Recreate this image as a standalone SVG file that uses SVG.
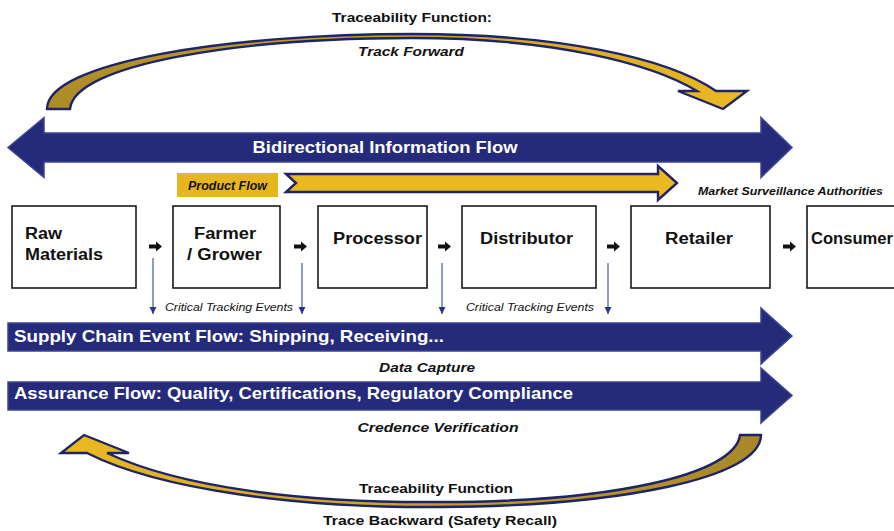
<svg xmlns="http://www.w3.org/2000/svg" width="894" height="531" viewBox="0 0 894 531">
<defs>
<linearGradient id="gTop" gradientUnits="userSpaceOnUse" x1="47" y1="0" x2="747" y2="0">
<stop offset="0" stop-color="#ad8c28"/><stop offset="0.5" stop-color="#c9a226"/><stop offset="1" stop-color="#ebb922"/>
</linearGradient>
<linearGradient id="gBot" gradientUnits="userSpaceOnUse" x1="761" y1="0" x2="61" y2="0">
<stop offset="0" stop-color="#a8872a"/><stop offset="0.5" stop-color="#c9a226"/><stop offset="1" stop-color="#ebb922"/>
</linearGradient>
<marker id="dn" viewBox="0 0 10 10" refX="10" refY="5" markerWidth="7" markerHeight="8" markerUnits="userSpaceOnUse" orient="auto">
<path d="M0,0 L10,5 L0,10 Z" fill="#2a3590"/>
</marker>
</defs>
<style>
text{font-family:"Liberation Sans",Arial,sans-serif;font-weight:bold;}
.it{font-style:italic;}
.reg{font-weight:normal;}
.w{fill:#ffffff;}
.k{fill:#111111;}
.box{fill:#ffffff;stroke:#1a1a1a;stroke-width:1.6;}
.navy{fill:#252a7b;stroke:#3d4392;stroke-width:1.5;}
.arc{stroke:#1e2466;stroke-width:2.4;stroke-linejoin:miter;}
.sa{fill:#111111;}
.dl{stroke:#5563a8;stroke-width:1.3;fill:none;}
</style>
<rect width="894" height="531" fill="#ffffff"/>

<g id="track-forward">
<path class="arc" fill="url(#gTop)" d="M47,109 C47,62 230,34 412,34 C560,34 668,58 716,91 L747,91 L723,109 L678,91 L697,91 C652,64 555,38 412,38 C240,38 74,64 70,109 Z"/>
<text x="412" y="22" font-size="13" text-anchor="middle" textLength="160" lengthAdjust="spacingAndGlyphs" class="k">Traceability Function:</text>
<text x="411" y="56" font-size="13" text-anchor="middle" textLength="106" lengthAdjust="spacingAndGlyphs" class="k it">Track Forward</text>
</g>

<g id="bidirectional-flow">
<path class="navy" d="M8,147.5 L44,117.5 V133 H761 V117.5 L792,147.5 L761,177.5 V162 H44 V177.5 Z"/>
<text x="385" y="153" font-size="16.5" text-anchor="middle" textLength="265" lengthAdjust="spacingAndGlyphs" class="w">Bidirectional Information Flow</text>
</g>

<g id="product-flow">
<rect x="177" y="173" width="101" height="24" fill="#e6b51f"/>
<text x="188" y="190" font-size="12" textLength="79" lengthAdjust="spacingAndGlyphs" class="k it">Product Flow</text>
<path d="M286,174 L658,174 L658,166 L677,183 L658,200 L658,192 L286,192 L296,183 Z" fill="#e9b922" stroke="#1e2466" stroke-width="2.4"/>
</g>

<g id="market-surveillance">
<text x="698" y="195" font-size="11.5" textLength="185" lengthAdjust="spacingAndGlyphs" class="k it">Market Surveillance Authorities</text>
</g>

<g id="raw-materials">
<rect class="box" x="12" y="206" width="124" height="82"/>
<text x="25" y="239" font-size="16" textLength="37" lengthAdjust="spacingAndGlyphs" class="k">Raw</text>
<text x="25" y="260" font-size="16" textLength="78" lengthAdjust="spacingAndGlyphs" class="k">Materials</text>
</g>
<g id="farmer-grower">
<rect class="box" x="173" y="206" width="107" height="82"/>
<text x="194" y="239" font-size="16" textLength="62" lengthAdjust="spacingAndGlyphs" class="k">Farmer</text>
<text x="187" y="260" font-size="16" textLength="75" lengthAdjust="spacingAndGlyphs" class="k">/ Grower</text>
</g>
<g id="processor">
<rect class="box" x="318" y="206" width="109" height="82"/>
<text x="333" y="244" font-size="16" textLength="89" lengthAdjust="spacingAndGlyphs" class="k">Processor</text>
</g>
<g id="distributor">
<rect class="box" x="462" y="206" width="134" height="82"/>
<text x="480" y="244" font-size="16" textLength="93" lengthAdjust="spacingAndGlyphs" class="k">Distributor</text>
</g>
<g id="retailer">
<rect class="box" x="631" y="206" width="139" height="82"/>
<text x="665" y="244" font-size="16" textLength="68" lengthAdjust="spacingAndGlyphs" class="k">Retailer</text>
</g>
<g id="consumer">
<rect class="box" x="807" y="206" width="100" height="82"/>
<text x="811" y="244" font-size="16" textLength="82" lengthAdjust="spacingAndGlyphs" class="k">Consumer</text>
</g>

<g id="connectors">
<path class="sa" d="M149,244.5 h7 v-3 l6,5 l-6,5 v-3 h-7 z"/>
<path class="sa" d="M294,244.5 h7 v-3 l6,5 l-6,5 v-3 h-7 z"/>
<path class="sa" d="M438,244.5 h7 v-3 l6,5 l-6,5 v-3 h-7 z"/>
<path class="sa" d="M607,244.5 h7 v-3 l6,5 l-6,5 v-3 h-7 z"/>
<path class="sa" d="M783,244.5 h7 v-3 l6,5 l-6,5 v-3 h-7 z"/>
<line class="dl" x1="153" y1="258" x2="153" y2="314" marker-end="url(#dn)"/>
<line class="dl" x1="302" y1="263" x2="302" y2="314" marker-end="url(#dn)"/>
<line class="dl" x1="442" y1="263" x2="442" y2="314" marker-end="url(#dn)"/>
<line class="dl" x1="608" y1="263" x2="608" y2="314" marker-end="url(#dn)"/>
</g>

<g id="cte-labels">
<text x="165" y="311" font-size="10.5" textLength="128" lengthAdjust="spacingAndGlyphs" class="k it reg">Critical Tracking Events</text>
<text x="466" y="311" font-size="10.5" textLength="128" lengthAdjust="spacingAndGlyphs" class="k it reg">Critical Tracking Events</text>
</g>

<g id="supply-chain-flow">
<path class="navy" d="M8,323 H761 V308 L792,336 L761,364 V351 H8 Z"/>
<text x="14" y="342" font-size="17" textLength="430" lengthAdjust="spacingAndGlyphs" class="w">Supply Chain Event Flow: Shipping, Receiving...</text>
</g>
<text x="427" y="372" font-size="12.5" text-anchor="middle" textLength="96" lengthAdjust="spacingAndGlyphs" class="k it">Data Capture</text>

<g id="assurance-flow">
<path class="navy" d="M8,382 H761 V368 L792,395.5 L761,423 V410 H8 Z"/>
<text x="14" y="399" font-size="17" textLength="559" lengthAdjust="spacingAndGlyphs" class="w">Assurance Flow: Quality, Certifications, Regulatory Compliance</text>
</g>
<text x="438" y="432" font-size="12.5" text-anchor="middle" textLength="161" lengthAdjust="spacingAndGlyphs" class="k it">Credence Verification</text>

<g id="trace-backward">
<path class="arc" fill="url(#gBot)" d="M761,435 C761,478 620,506 440,507 C300,508 160,490 87,453 L61,453 L84,435 L129,453 L107,453 C180,487 300,503 440,502 C610,502 735,475 740,435 Z"/>
<text x="436" y="493" font-size="13.5" text-anchor="middle" textLength="154" lengthAdjust="spacingAndGlyphs" class="k">Traceability Function</text>
<text x="440" y="525" font-size="13.5" text-anchor="middle" textLength="234" lengthAdjust="spacingAndGlyphs" class="k">Trace Backward (Safety Recall)</text>
</g>
</svg>
